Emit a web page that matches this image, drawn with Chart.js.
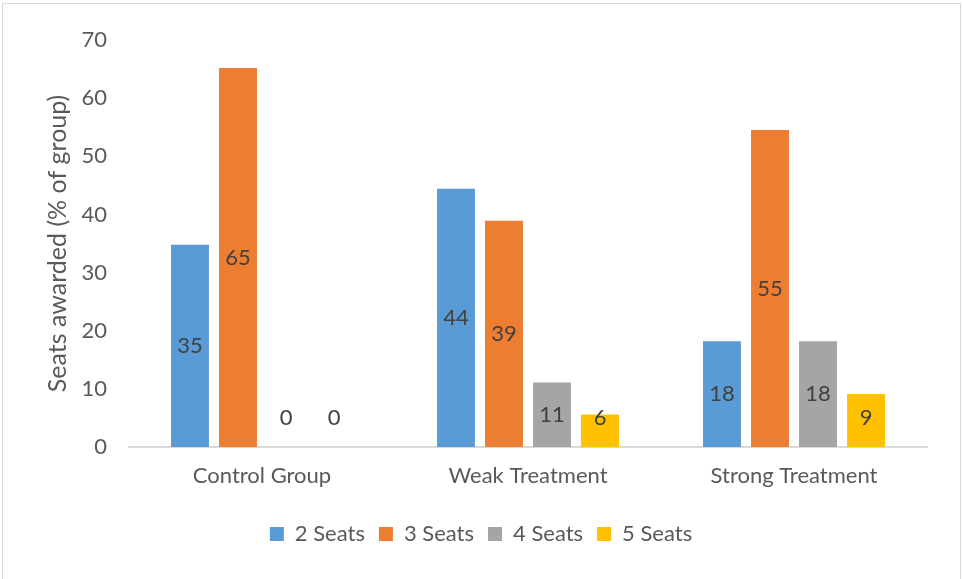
<!DOCTYPE html>
<html>
<head>
<meta charset="utf-8">
<script src="https://cdn.jsdelivr.net/npm/chart.js@4"></script>
<style>
  html, body { margin: 0; padding: 0; background: #fff; }
  #wrap { width: 962px; height: 579px; position: relative; }
</style>
</head>
<body>
<div id="wrap"><canvas id="chart"></canvas></div>
<script>
const groups = ["Control Group", "Weak Treatment", "Strong Treatment"];
const seriesNames = ["2 Seats", "3 Seats", "4 Seats", "5 Seats"];
const twoSeats = [34.8, 44.4, 18.2];
const threeSeats = [65.2, 38.9, 54.5];
const fourSeats = [0, 11.1, 18.2];
const fiveSeats = [0, 5.6, 9.1];
const yTicks = [0, 10, 20, 30, 40, 50, 60, 70];

const colors = ["#5B9BD5", "#ED7D31", "#A5A5A5", "#FFC000"];
const FONT = "Lato, 'Open Sans', sans-serif";
const FS = 22;

// border round the whole chart, like the Excel frame
const frame = {
  id: "frame",
  beforeDraw(chart) {
    const c = chart.ctx;
    c.save();
    c.strokeStyle = "#d9d9d9";
    c.lineWidth = 1;
    c.strokeRect(2.5, 3.5, 958, 600);
    c.restore();
  }
};

// value labels in the middle of each bar
const barLabels = {
  id: "barLabels",
  afterDatasetsDraw(chart) {
    const c = chart.ctx;
    c.save();
    c.font = FS + "px " + FONT;
    c.fillStyle = "#404040";
    c.textAlign = "center";
    c.textBaseline = "middle";
    chart.data.datasets.forEach((ds, i) => {
      chart.getDatasetMeta(i).data.forEach((bar, j) => {
        const y = Math.min((bar.y + bar.base) / 2, bar.base - 29);
        c.fillText(String(Math.round(ds.data[j])), bar.x, y);
      });
    });
    c.restore();
  }
};

new Chart(document.getElementById("chart"), {
  type: "bar",
  data: {
    labels: groups,
    datasets: [twoSeats, threeSeats, fourSeats, fiveSeats].map((d, i) => ({
      label: seriesNames[i],
      data: d,
      backgroundColor: colors[i],
      categoryPercentage: 0.722,
      barPercentage: 0.79
    }))
  },
  options: {
    responsive: true,
    maintainAspectRatio: false,
    animation: false,
    layout: { padding: { top: 40, right: 35, left: 35, bottom: 24 } },
    plugins: {
      tooltip: { enabled: false },
      legend: {
        position: "bottom",
        labels: {
          boxWidth: 14, boxHeight: 14, padding: 14,
          color: "#595959",
          font: { family: FONT, size: FS }
        }
      }
    },
    scales: {
      x: {
        grid: { display: false, drawTicks: false },
        border: { color: "#d9d9d9", width: 2 },
        ticks: { color: "#595959", padding: 16, font: { family: FONT, size: FS } },
        afterFit(s) { s.height = 62; }
      },
      y: {
        min: 0, max: 70,
        afterBuildTicks(s) { s.ticks = yTicks.map(v => ({ value: v })); },
        grid: { display: false, drawTicks: false },
        border: { display: false },
        ticks: { color: "#595959", padding: 22, font: { family: FONT, size: FS } },
        title: {
          display: true,
          text: "Seats awarded (% of group)",
          color: "#595959",
          font: { family: FONT, size: 25 },
          padding: { top: 8, bottom: 0 }
        },
        afterFit(s) { s.width = 94; }
      }
    }
  },
  plugins: [frame, barLabels]
});
</script>
</body>
</html>
